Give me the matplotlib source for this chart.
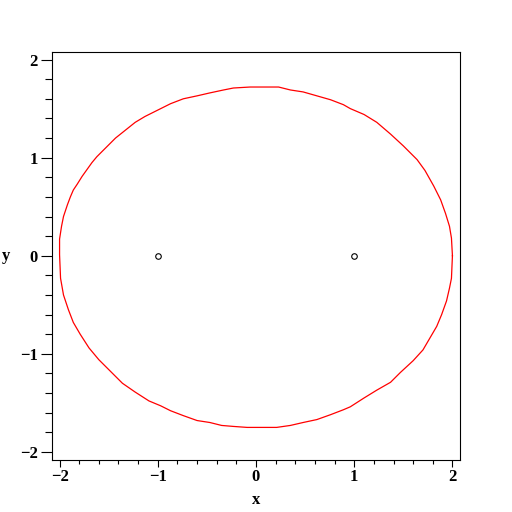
import numpy as np
import matplotlib
matplotlib.use('Agg')
import matplotlib.pyplot as plt
from matplotlib.ticker import MultipleLocator

# curve points, counter-clockwise starting at the right end
curve_x = [2.00, 1.99, 1.97, 1.93, 1.88, 1.81, 1.72, 1.64, 1.50, 1.37, 1.23, 1.10,
           0.96, 0.89, 0.76, 0.62, 0.48, 0.35, 0.23, 0.04, -0.06, -0.23, -0.33, -0.47,
           -0.60, -0.74, -0.87, -0.97, -1.13, -1.23, -1.33, -1.43, -1.53, -1.62, -1.67,
           -1.72, -1.77, -1.82, -1.86, -1.89, -1.92, -1.96, -1.98, -2.00, -2.00,
           -1.99, -1.96, -1.91, -1.86, -1.79, -1.70, -1.60, -1.48, -1.36, -1.23, -1.09,
           -0.97, -0.87, -0.74, -0.60, -0.47, -0.35, -0.23, -0.09, 0.21, 0.35, 0.48,
           0.62, 0.76, 0.89, 0.96, 1.10, 1.23, 1.37, 1.47, 1.60, 1.70, 1.77, 1.84,
           1.89, 1.94, 1.97, 1.99]
curve_y = [0.00, 0.18, 0.30, 0.43, 0.57, 0.71, 0.87, 0.98, 1.12, 1.24, 1.36, 1.44,
           1.50, 1.54, 1.59, 1.63, 1.67, 1.69, 1.72, 1.72, 1.72, 1.71, 1.69, 1.66,
           1.63, 1.60, 1.55, 1.50, 1.42, 1.36, 1.28, 1.20, 1.10, 1.01, 0.95,
           0.88, 0.81, 0.73, 0.67, 0.60, 0.52, 0.40, 0.30, 0.17, 0.01,
           -0.23, -0.40, -0.55, -0.68, -0.80, -0.94, -1.06, -1.18, -1.30, -1.39, -1.48,
           -1.53, -1.58, -1.63, -1.68, -1.70, -1.73, -1.74, -1.75, -1.75, -1.73, -1.70,
           -1.67, -1.62, -1.57, -1.54, -1.45, -1.37, -1.29, -1.19, -1.07, -0.96, -0.84, -0.72,
           -0.60, -0.46, -0.33, -0.23]
foci_x = [-1, 1]
foci_y = [0, 0]

fig = plt.figure(figsize=(5.12, 5.12), dpi=100)
ax = fig.add_axes([0.101, 0.102, 0.798, 0.797])

cx = curve_x + curve_x[:1]
cy = curve_y + curve_y[:1]
ax.plot(cx, cy, color='red', lw=0.9)
ax.plot(foci_x, foci_y, 'o', mfc='white', mec='black', ms=4, mew=0.8)

ax.set_xlim(-2.08, 2.08)
ax.set_ylim(-2.08, 2.08)
ax.xaxis.set_major_locator(MultipleLocator(1))
ax.xaxis.set_minor_locator(MultipleLocator(0.2))
ax.yaxis.set_major_locator(MultipleLocator(1))
ax.yaxis.set_minor_locator(MultipleLocator(0.2))

font = {'family': 'Liberation Serif', 'weight': 'bold', 'size': 12}
ax.tick_params(axis='x', which='major', length=5, width=0.8, labelsize=12, pad=2)
ax.tick_params(axis='x', which='minor', length=3, width=0.8)
ax.tick_params(axis='y', which='major', length=8, width=0.8, labelsize=12, pad=2)
ax.tick_params(axis='y', which='minor', length=5, width=0.8)
for lab in ax.get_xticklabels() + ax.get_yticklabels():
    lab.set_fontfamily('Liberation Serif')
    lab.set_fontweight('bold')

for s in ax.spines.values():
    s.set_linewidth(0.8)

ax.set_xlabel('x', fontdict=font, labelpad=5)
ax.set_ylabel('y', fontdict=font, rotation=0, labelpad=10, va='center')

plt.savefig('out.png', dpi=100)
